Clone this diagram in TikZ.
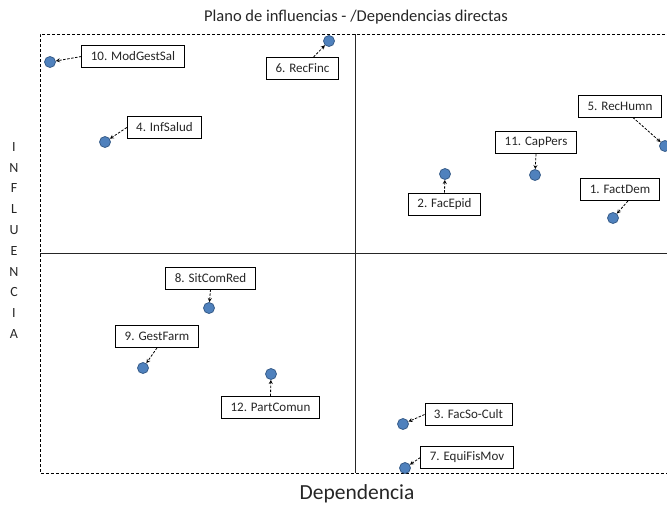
\documentclass[tikz,border=0pt]{standalone}
\usepackage{fontspec}
\setmainfont{Carlito}
\definecolor{dotblue}{HTML}{4F81BD}
\definecolor{dotedge}{HTML}{385D8A}
\definecolor{inkgray}{HTML}{262626}

\begin{document}
\begin{tikzpicture}[x=1pt,y=-1pt,line width=0.8pt,
    dot node/.style={circle,fill=dotblue,draw=dotedge,line width=0.8pt,minimum size=11pt,inner sep=0pt},
    tag node/.style={rectangle,draw,fill=white,text=inkgray,font=\fontsize{13}{15}\selectfont,minimum height=22pt,inner xsep=9pt,inner ysep=0pt},
    link/.style={->,>=stealth,dash pattern=on 2.5pt off 1.5pt,line width=0.8pt}]
    \useasboundingbox (0,0) rectangle (667,506);
    % frame and quadrants
    \draw[dash pattern=on 3pt off 2pt] (680,34) -- (40,34) -- (40,473) -- (680,473);
    \draw[inkgray] (355,34) -- (355,473);
    \draw[inkgray] (40,253) -- (680,253);
    % titles
    \node[text=inkgray,font=\fontsize{16.5}{18}\selectfont] (title) at (356,17) {Plano de influencias - /Dependencias directas};
    \node[text=inkgray,font=\fontsize{21.5}{24}\selectfont] (xaxis) at (357,494) {Dependencia};
    \node[text=inkgray,font=\fontsize{14}{20.8}\selectfont,align=center] (yaxis) at (14,240.5) {I\\N\\F\\L\\U\\E\\N\\C\\I\\A};
    % points
    \node[dot node] (p1) at (613,218) {};
    \node[dot node] (p2) at (445,174) {};
    \node[dot node] (p3) at (403,424) {};
    \node[dot node] (p4) at (105,142) {};
    \node[dot node] (p5) at (665,146) {};
    \node[dot node] (p6) at (329,41) {};
    \node[dot node] (p7) at (405,468) {};
    \node[dot node] (p8) at (209,308) {};
    \node[dot node] (p9) at (143,368) {};
    \node[dot node] (p10) at (50,62) {};
    \node[dot node] (p11) at (535,175) {};
    \node[dot node] (p12) at (271,374) {};
    % tags
    \node[tag node] (t1) at (620,189.5) {1. FactDem};
    \node[tag node] (t2) at (444.5,204) {2. FacEpid};
    \node[tag node] (t3) at (468.5,414.5) {3. FacSo-Cult};
    \node[tag node] (t4) at (164.5,127.5) {4. InfSalud};
    \node[tag node] (t5) at (620,106) {5. RecHumn};
    \node[tag node] (t6) at (302.5,68.5) {6. RecFinc};
    \node[tag node] (t7) at (467,457.5) {7. EquiFisMov};
    \node[tag node] (t8) at (210.5,278) {8. SitComRed};
    \node[tag node] (t9) at (157,336.5) {9. GestFarm};
    \node[tag node] (t10) at (133,56.5) {10. ModGestSal};
    \node[tag node] (t11) at (536,142.5) {11. CapPers};
    \node[tag node] (t12) at (270.5,407.5) {12. PartComun};
    % links
    \path [link] ([xshift=8pt]t1.south) edge (p1);
    \path [link] (t2.north) edge (p2);
    \path [link] (t3.west) edge (p3);
    \path [link] (t4.west) edge (p4);
    \path [link] (t5) edge (p5);
    \path [link] (t6) edge (p6);
    \path [link] (t7.west) edge (p7);
    \path [link] (t8.south) edge (p8);
    \path [link] (t9.south) edge (p9);
    \path [link] (t10.west) edge (p10);
    \path [link] (t11.south) edge (p11);
    \path [link] (t12.north) edge (p12);
\end{tikzpicture}
\end{document}
